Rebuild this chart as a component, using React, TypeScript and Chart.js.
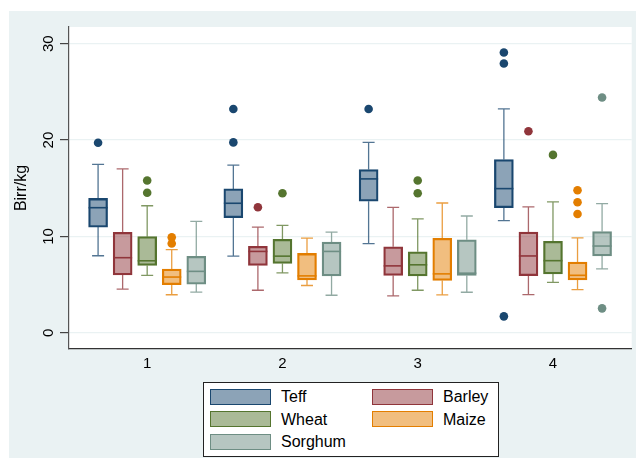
import React, { useEffect, useRef } from "react";
import { Chart, registerables } from "chart.js";

Chart.register(...registerables);

// ---- data ----
const GROUPS = [1, 2, 3, 4];
const SERIES = ["Teff", "Barley", "Wheat", "Maize", "Sorghum"];
const LINE_COLORS = ["#1a476f", "#90353b", "#55752f", "#e37e00", "#6e8e84"];
const Y_TICKS = [0, 10, 20, 30];
const Y_TITLE = "Birr/kg";

// whisker low, Q1, median, Q3, whisker high per group
const TEFF_LO = [7.99, 7.95, 9.24, 11.64];
const TEFF_Q1 = [10.97, 11.94, 13.65, 12.99];
const TEFF_MED = [12.98, 13.44, 15.97, 14.96];
const TEFF_Q3 = [13.94, 14.93, 16.94, 17.98];
const TEFF_HI = [17.47, 17.4, 19.76, 23.24];
const TEFF_OUT = [[19.72], [23.23, 19.76], [23.23], [29.1, 27.95, 1.7]];

const BARLEY_LO = [4.53, 4.41, 3.82, 3.95];
const BARLEY_Q1 = [5.99, 6.98, 5.94, 5.92];
const BARLEY_MED = [7.79, 8.44, 6.94, 7.97];
const BARLEY_Q3 = [10.42, 8.96, 8.92, 10.46];
const BARLEY_HI = [17.02, 10.97, 13.02, 13.06];
const BARLEY_OUT = [[], [13.02], [], [20.92]];

const WHEAT_LO = [5.95, 6.22, 4.41, 5.23];
const WHEAT_Q1 = [6.99, 7.19, 5.9, 6.1];
const WHEAT_MED = [7.47, 7.95, 7.05, 7.48];
const WHEAT_Q3 = [9.97, 9.69, 8.4, 9.49];
const WHEAT_HI = [13.18, 11.15, 11.81, 13.58];
const WHEAT_OUT = [[15.81, 14.53], [14.48], [15.8, 14.48], [18.46]];

const MAIZE_LO = [3.94, 4.9, 3.92, 4.47];
const MAIZE_Q1 = [4.98, 5.49, 5.42, 5.47];
const MAIZE_MED = [5.78, 5.9, 6.11, 5.96];
const MAIZE_Q3 = [6.61, 8.23, 9.79, 7.34];
const MAIZE_HI = [8.62, 9.83, 13.47, 9.84];
const MAIZE_OUT = [[9.9, 9.27], [], [], [14.79, 13.54, 12.33]];

const SORGHUM_LO = [4.22, 3.89, 4.2, 6.62];
const SORGHUM_Q1 = [5.05, 5.9, 5.94, 7.97];
const SORGHUM_MED = [6.37, 8.44, 6.18, 9.0];
const SORGHUM_Q3 = [7.92, 9.41, 9.65, 10.5];
const SORGHUM_HI = [11.56, 10.45, 12.12, 13.4];
const SORGHUM_OUT = [[], [], [], [24.42, 2.53]];

const STATS = [
  { lo: TEFF_LO, q1: TEFF_Q1, med: TEFF_MED, q3: TEFF_Q3, hi: TEFF_HI, out: TEFF_OUT },
  { lo: BARLEY_LO, q1: BARLEY_Q1, med: BARLEY_MED, q3: BARLEY_Q3, hi: BARLEY_HI, out: BARLEY_OUT },
  { lo: WHEAT_LO, q1: WHEAT_Q1, med: WHEAT_MED, q3: WHEAT_Q3, hi: WHEAT_HI, out: WHEAT_OUT },
  { lo: MAIZE_LO, q1: MAIZE_Q1, med: MAIZE_MED, q3: MAIZE_Q3, hi: MAIZE_HI, out: MAIZE_OUT },
  { lo: SORGHUM_LO, q1: SORGHUM_Q1, med: SORGHUM_MED, q3: SORGHUM_Q3, hi: SORGHUM_HI, out: SORGHUM_OUT },
];

// ---- styling ----
const FONT = '"Liberation Sans", Arial, Helvetica, sans-serif';
const OUTER_BG = "#eaf2f3";
const BOX_STEP = 0.1815;
const BOX_PX = 19;
const CAP_PX = 12;

function rgba(hex: string, a: number) {
  const n = parseInt(hex.slice(1), 16);
  return `rgba(${(n >> 16) & 255},${(n >> 8) & 255},${n & 255},${a})`;
}

function xOf(gi: number, si: number) {
  return GROUPS[gi] + (si - 2) * BOX_STEP;
}

const boxPlugin = {
  id: "boxParts",
  beforeDraw(chart: any) {
    const { ctx, chartArea, width, height } = chart;
    ctx.save();
    ctx.fillStyle = "#ffffff";
    ctx.fillRect(0, 0, width, height);
    ctx.fillStyle = OUTER_BG;
    ctx.fillRect(9, 11, width - 9, height - 11);
    ctx.fillStyle = "#ffffff";
    ctx.fillRect(chartArea.left, chartArea.top, chartArea.right - chartArea.left, chartArea.bottom - chartArea.top);
    ctx.restore();
  },
  beforeDatasetsDraw(chart: any) {
    const { ctx } = chart;
    const xs = chart.scales.x;
    const ys = chart.scales.y;
    ctx.save();
    STATS.forEach((st, si) => {
      ctx.strokeStyle = rgba(LINE_COLORS[si], 0.75);
      ctx.lineWidth = 1.3;
      GROUPS.forEach((_, gi) => {
        const px = xs.getPixelForValue(xOf(gi, si));
        const pairs = [
          [st.q3[gi], st.hi[gi]],
          [st.q1[gi], st.lo[gi]],
        ];
        pairs.forEach(([a, b]) => {
          const ya = ys.getPixelForValue(a);
          const yb = ys.getPixelForValue(b);
          ctx.beginPath();
          ctx.moveTo(px, ya);
          ctx.lineTo(px, yb);
          ctx.moveTo(px - CAP_PX / 2, yb);
          ctx.lineTo(px + CAP_PX / 2, yb);
          ctx.stroke();
        });
      });
    });
    ctx.restore();
  },
  afterDatasetsDraw(chart: any) {
    const { ctx } = chart;
    const xs = chart.scales.x;
    const ys = chart.scales.y;
    ctx.save();
    STATS.forEach((st, si) => {
      ctx.strokeStyle = LINE_COLORS[si];
      ctx.lineWidth = 1.6;
      GROUPS.forEach((_, gi) => {
        const px = xs.getPixelForValue(xOf(gi, si));
        const y = ys.getPixelForValue(st.med[gi]);
        ctx.beginPath();
        ctx.moveTo(px - BOX_PX / 2, y);
        ctx.lineTo(px + BOX_PX / 2, y);
        ctx.stroke();
      });
    });
    ctx.restore();
  },
  afterDraw(chart: any) {
    const { ctx, chartArea } = chart;
    const ys = chart.scales.y;
    ctx.save();
    ctx.fillStyle = "#000";
    ctx.font = `15px ${FONT}`;
    ctx.textAlign = "center";
    ctx.textBaseline = "middle";
    Y_TICKS.forEach((v) => {
      const y = ys.getPixelForValue(v);
      ctx.save();
      ctx.translate(48.5, y);
      ctx.rotate(-Math.PI / 2);
      ctx.fillText(String(v), 0, 0);
      ctx.restore();
    });
    ctx.font = `16px ${FONT}`;
    ctx.save();
    ctx.translate(22, (chartArea.top + chartArea.bottom) / 2);
    ctx.rotate(-Math.PI / 2);
    ctx.fillText(Y_TITLE, 0, 0);
    ctx.restore();
    ctx.restore();
  },
};

export default function App() {
  const ref = useRef<HTMLCanvasElement | null>(null);

  useEffect(() => {
    if (!ref.current) return;
    const datasets: any[] = [];
    STATS.forEach((st, si) => {
      datasets.push({
        type: "bar",
        label: SERIES[si],
        data: GROUPS.map((_, gi) => ({ x: xOf(gi, si), y: [st.q1[gi], st.q3[gi]] })),
        backgroundColor: rgba(LINE_COLORS[si], 0.5),
        borderColor: LINE_COLORS[si],
        borderWidth: 1.6,
        borderSkipped: false,
        barThickness: BOX_PX,
        grouped: false,
      });
    });
    STATS.forEach((st, si) => {
      const pts: { x: number; y: number }[] = [];
      st.out.forEach((arr, gi) => arr.forEach((v) => pts.push({ x: xOf(gi, si), y: v })));
      datasets.push({
        type: "scatter",
        label: SERIES[si] + " outliers",
        data: pts,
        backgroundColor: LINE_COLORS[si],
        borderColor: LINE_COLORS[si],
        borderWidth: 0,
        pointRadius: 4.3,
      });
    });

    const chart = new Chart(ref.current, {
      type: "bar",
      data: { datasets },
      options: {
        animation: false,
        responsive: true,
        maintainAspectRatio: false,
        layout: { padding: { top: 27, right: 3, left: 0, bottom: 0 } },
        plugins: { legend: { display: false }, tooltip: { enabled: false } },
        scales: {
          x: {
            type: "linear",
            min: 0.422,
            max: 4.582,
            offset: false,
            afterBuildTicks: (s: any) => {
              s.ticks = GROUPS.map((v) => ({ value: v }));
            },
            afterFit: (s: any) => {
              s.height = 109;
            },
            grid: { display: false, drawTicks: false },
            border: { color: "#333", width: 1.2 },
            ticks: {
              color: "#000",
              font: { family: FONT, size: 15 },
              padding: 6,
              maxRotation: 0,
              callback: (v: any) => String(v),
            },
          },
          y: {
            type: "linear",
            min: -1.69,
            max: 31.74,
            afterBuildTicks: (s: any) => {
              s.ticks = Y_TICKS.map((v) => ({ value: v }));
            },
            afterFit: (s: any) => {
              s.width = 69;
            },
            grid: { color: OUTER_BG, lineWidth: 1.2, tickLength: 9, tickColor: "#444", drawTicks: true },
            border: { color: "#555", width: 1.2 },
            ticks: { display: false },
          },
        },
      },
      plugins: [boxPlugin],
    });
    return () => chart.destroy();
  }, []);

  const legendItems = SERIES.map((name, i) => {
    const col = i % 2;
    const row = Math.floor(i / 2);
    return (
      <div
        key={name}
        style={{
          position: "absolute",
          left: col === 0 ? 6 : 168,
          top: 5 + row * 22.5,
          height: 17,
          display: "flex",
          alignItems: "center",
        }}
      >
        <div
          style={{
            width: 59,
            height: 14,
            background: rgba(LINE_COLORS[i], 0.5),
            border: `1.5px solid ${LINE_COLORS[i]}`,
          }}
        />
        <span style={{ marginLeft: 10, fontSize: 16, color: "#000", lineHeight: "17px" }}>{name}</span>
      </div>
    );
  });

  return (
    <div style={{ position: "absolute", left: 0, top: 0, width: 636, height: 458, fontFamily: FONT }}>
      <canvas ref={ref} />
      <div
        style={{
          position: "absolute",
          left: 203,
          top: 382,
          width: 294,
          height: 73,
          background: "#fff",
          border: "1px solid #222",
        }}
      >
        {legendItems}
      </div>
    </div>
  );
}
